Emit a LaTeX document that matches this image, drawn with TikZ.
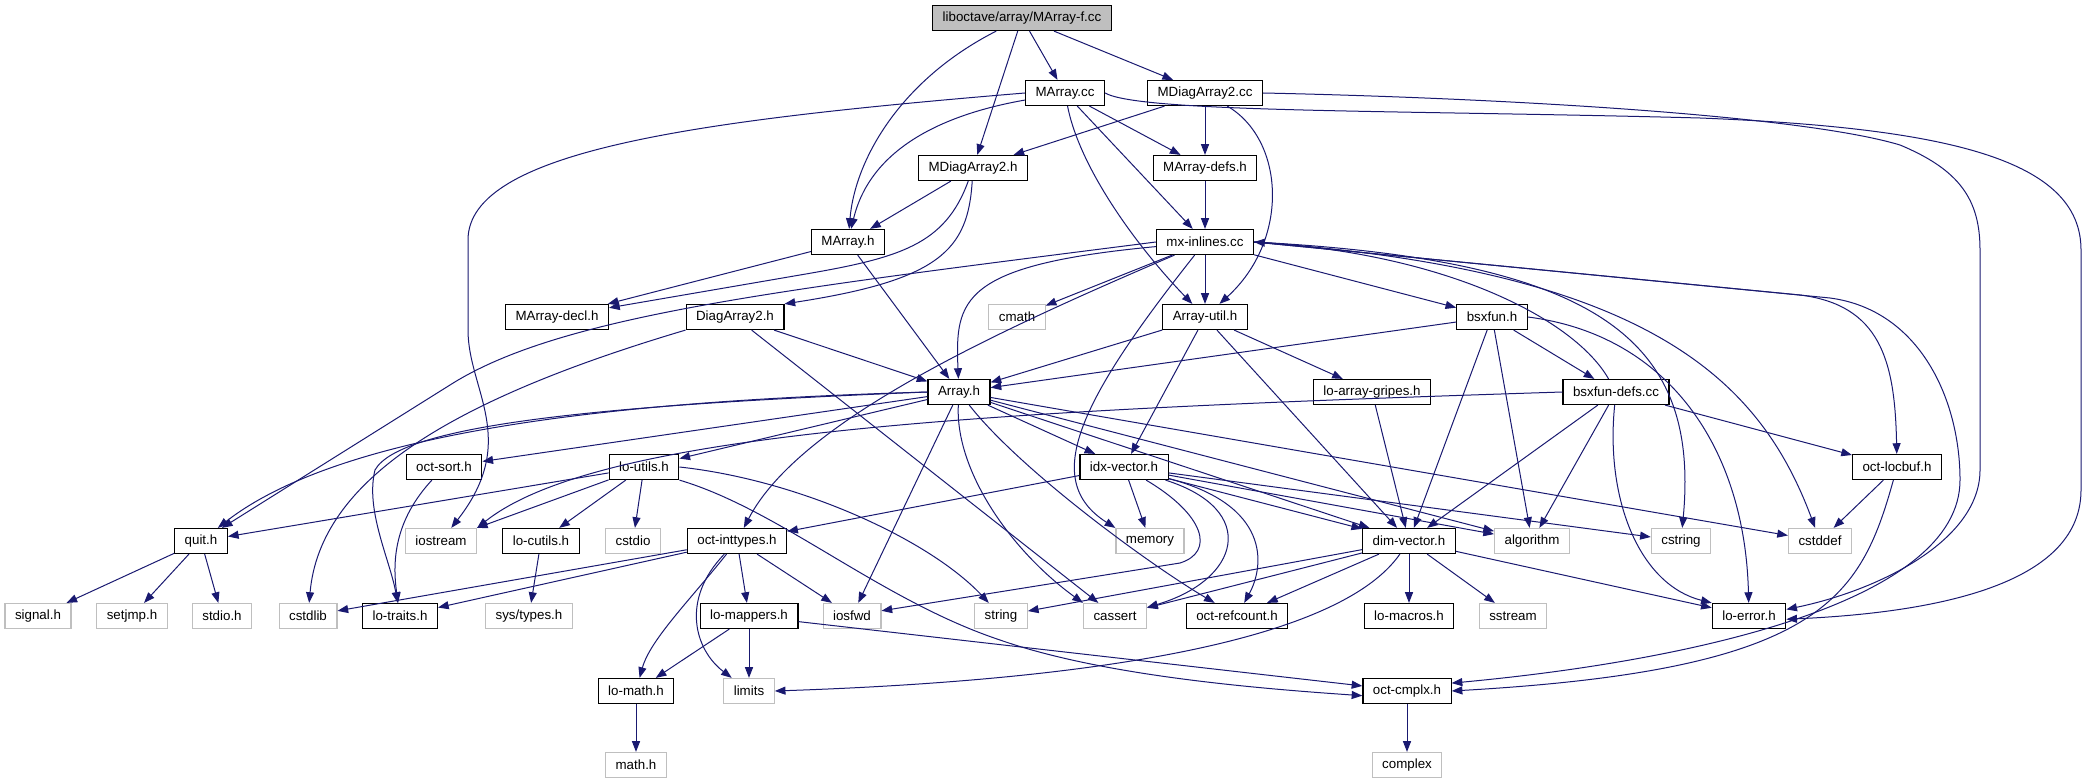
\documentclass[tikz,border=0pt]{standalone}
\usepackage{fontspec}
\setmainfont{Liberation Sans}
\usetikzlibrary{arrows.meta}
\definecolor{grey75}{RGB}{191,191,191}
\definecolor{midnight}{RGB}{25,25,112}

\begin{document}
\begin{tikzpicture}[x=0.75pt, y=-0.75pt,
  file/.style = {draw, line width=0.9pt, minimum height=18.75pt, inner xsep=7.5pt, inner ysep=0pt, font=\fontsize{10}{12}\selectfont},
  sys/.style = {file, draw=grey75},
  start/.style = {file, fill=grey75},
  dep/.style = {draw=midnight, line width=0.75pt, -{Triangle[length=8pt, width=6pt]}}]
\useasboundingbox (0,0) rectangle (2087,784);

\node[start] (root) at (1022,18) {liboctave/array/MArray-f.cc};
\node[file] (marraycc) at (1065,93) {MArray.cc};
\node[file] (mdiagcc) at (1205,93) {MDiagArray2.cc};
\node[file] (mdiagh) at (973,168) {MDiagArray2.h};
\node[file] (mdefs) at (1205,168) {MArray-defs.h};
\node[file] (marrayh) at (848,242) {MArray.h};
\node[file] (mxinl) at (1205,242) {mx-inlines.cc};
\node[file] (mdecl) at (557,317) {MArray-decl.h};
\node[file] (diagh) at (735,317) {DiagArray2.h};
\node[sys] (cmath) at (1017,317) {cmath};
\node[file] (autil) at (1205,317) {Array-util.h};
\node[file] (bsxfun) at (1492,317) {bsxfun.h};
\node[file] (arrayh) at (959,392) {Array.h};
\node[file] (gripes) at (1372,392) {lo-array-gripes.h};
\node[file] (bsxdefs) at (1616,392) {bsxfun-defs.cc};
\node[file] (octsort) at (444,467) {oct-sort.h};
\node[file] (loutils) at (644,467) {lo-utils.h};
\node[file] (idxvec) at (1124,467) {idx-vector.h};
\node[file] (locbuf) at (1897,467) {oct-locbuf.h};
\node[file] (quit) at (201,541) {quit.h};
\node[sys] (iostream) at (441,541) {iostream};
\node[file] (locutils) at (541,541) {lo-cutils.h};
\node[sys] (cstdio) at (633,541) {cstdio};
\node[file] (inttypes) at (737,541) {oct-inttypes.h};
\node[sys] (memory) at (1150,541) {memory};
\node[file] (dimvec) at (1409,541) {dim-vector.h};
\node[sys] (algorithm) at (1532,541) {algorithm};
\node[sys] (cstring) at (1681,541) {cstring};
\node[sys] (cstddef) at (1820,541) {cstddef};
\node[sys] (signal) at (38,616) {signal.h};
\node[sys] (setjmp) at (132,616) {setjmp.h};
\node[sys] (stdio) at (222,616) {stdio.h};
\node[sys] (cstdlib) at (308,616) {cstdlib};
\node[file] (lotraits) at (400,616) {lo-traits.h};
\node[sys] (systypes) at (529,616) {sys/types.h};
\node[file] (mappers) at (749,616) {lo-mappers.h};
\node[sys] (iosfwd) at (852,616) {iosfwd};
\node[sys] (string) at (1001,616) {string};
\node[sys] (cassert) at (1115,616) {cassert};
\node[file] (refcount) at (1237,616) {oct-refcount.h};
\node[file] (macros) at (1409,616) {lo-macros.h};
\node[sys] (sstream) at (1513,616) {sstream};
\node[file] (loerror) at (1749,616) {lo-error.h};
\node[file] (lomath) at (636,691) {lo-math.h};
\node[sys] (limits) at (749,691) {limits};
\node[file] (cmplx) at (1407,691) {oct-cmplx.h};
\node[sys] (mathh) at (636,765) {math.h};
\node[sys] (complex) at (1407,765) {complex};

\draw[dep] (root) .. controls (900,80) and (855,160) .. (marrayh);
\draw[dep] (root) -- (mdiagh);
\draw[dep] (root) -- (marraycc);
\draw[dep] (root) -- (mdiagcc);

\draw[dep] (marraycc) .. controls (940,115) and (870,150) .. (marrayh);
\draw[dep] (marraycc.west) .. controls (700,120) and (468,150) .. (468,240) -- (468,330) .. controls (468,390) and (520,440) .. (iostream);
\draw[dep] (marraycc) -- (mdefs);
\draw[dep] (marraycc) -- (mxinl);
\draw[dep] (marraycc) .. controls (1080,170) and (1140,250) .. (autil);
\draw[dep] (marraycc.east) .. controls (1140,113) and (1400,110) .. (1700,118) .. controls (1950,128) and (2081,160) .. (2081,250) -- (2081,490) .. controls (2081,580) and (1950,612) .. (loerror.-5);

\draw[dep] (mdiagcc) -- (mdiagh);
\draw[dep] (mdiagcc) -- (mdefs);
\draw[dep] (mdiagcc) .. controls (1285,140) and (1290,240) .. (autil);
\draw[dep] (mdiagcc.east) .. controls (1500,98) and (1800,115) .. (1900,145) .. controls (1960,170) and (1980,200) .. (1980,250) -- (1980,470) .. controls (1980,540) and (1880,590) .. (loerror.10);

\draw[dep] (mdiagh) -- (marrayh);
\draw[dep] (mdiagh) .. controls (945,245) and (900,258) .. (800,275) -- (mdecl.10);
\draw[dep] (mdiagh) .. controls (968,250) and (940,280) .. (diagh.north east);
\draw[dep] (mdefs) -- (mxinl);
\draw[dep] (marrayh) -- (mdecl);
\draw[dep] (marrayh) -- (arrayh);

\draw[dep] (mxinl.west) .. controls (780,290) and (560,315) .. (450,385) -- (quit);
\draw[dep] (mxinl) .. controls (960,265) and (955,300) .. (arrayh);
\draw[dep] (mxinl) -- (cmath);
\draw[dep] (mxinl) .. controls (1080,400) and (1040,480) .. (memory.north west);
\draw[dep] (mxinl) .. controls (1000,330) and (800,420) .. (inttypes);
\draw[dep] (mxinl) -- (autil);
\draw[dep] (mxinl) -- (bsxfun);
\draw[dep] (mxinl.east) .. controls (1600,260) and (1700,340) .. (cstring);
\draw[dep] (mxinl.east) .. controls (1650,270) and (1760,380) .. (cstddef);
\draw[dep] (mxinl.east) -- (1800,295) .. controls (1880,305) and (1895,360) .. (locbuf);
\draw[dep] (mxinl.east) -- (1830,298) .. controls (1920,310) and (1960,400) .. (1960,480) .. controls (1960,600) and (1700,660) .. (cmplx.10);

\draw[dep] (diagh) -- (arrayh);
\draw[dep] (diagh) -- (cassert);
\draw[dep] (diagh.south west) .. controls (450,400) and (320,480) .. (cstdlib);

\draw[dep] (autil) -- (arrayh);
\draw[dep] (autil) -- (gripes);
\draw[dep] (autil) -- (idxvec);
\draw[dep] (autil) -- (dimvec);

\draw[dep] (bsxfun) -- (arrayh);
\draw[dep] (bsxfun) -- (bsxdefs);
\draw[dep] (bsxfun) -- (dimvec);
\draw[dep] (bsxfun) -- (algorithm);
\draw[dep] (bsxfun.east) .. controls (1670,335) and (1745,450) .. (loerror);

\draw[dep] (bsxdefs) .. controls (1575,320) and (1450,255) .. (mxinl.east);
\draw[dep] (bsxdefs.west) .. controls (1000,410) and (600,430) .. (iostream.north east);
\draw[dep] (bsxdefs) -- (locbuf);
\draw[dep] (bsxdefs) -- (dimvec);
\draw[dep] (bsxdefs) -- (algorithm);
\draw[dep] (bsxdefs) .. controls (1605,500) and (1640,585) .. (loerror.north west);

\draw[dep] (gripes) -- (dimvec);

\draw[dep] (arrayh.west) .. controls (650,400) and (350,425) .. (quit);
\draw[dep] (arrayh.west) .. controls (600,405) and (400,425) .. (375,470) .. controls (365,510) and (390,560) .. (lotraits);
\draw[dep] (arrayh) -- (octsort);
\draw[dep] (arrayh) -- (loutils);
\draw[dep] (arrayh) -- (idxvec);
\draw[dep] (arrayh) -- (iosfwd);
\draw[dep] (arrayh) .. controls (955,470) and (1010,550) .. (cassert.north west);
\draw[dep] (arrayh) .. controls (1020,470) and (1150,565) .. (refcount);
\draw[dep] (arrayh) -- (dimvec);
\draw[dep] (arrayh) -- (algorithm);
\draw[dep] (arrayh) -- (cstddef);

\draw[dep] (octsort) .. controls (395,520) and (392,560) .. (lotraits);

\draw[dep] (loutils) -- (quit);
\draw[dep] (loutils) -- (iostream);
\draw[dep] (loutils) -- (locutils);
\draw[dep] (loutils) -- (cstdio);
\draw[dep] (loutils.east) .. controls (800,480) and (930,540) .. (string);
\draw[dep] (loutils.south east) .. controls (780,510) and (880,600) .. (1000,640) .. controls (1100,675) and (1250,688) .. (cmplx.186);

\draw[dep] (idxvec) -- (inttypes);
\draw[dep] (idxvec) -- (memory);
\draw[dep] (idxvec) .. controls (1205,515) and (1215,552) .. (1180,563) -- (iosfwd.10);
\draw[dep] (idxvec) .. controls (1260,510) and (1240,580) .. (cassert.15);
\draw[dep] (idxvec) .. controls (1270,505) and (1265,565) .. (refcount);
\draw[dep] (idxvec) -- (dimvec);
\draw[dep] (idxvec) -- (algorithm);
\draw[dep] (idxvec) -- (cstring);

\draw[dep] (locbuf) -- (cstddef);
\draw[dep] (locbuf) .. controls (1860,600) and (1820,670) .. (cmplx.east);

\draw[dep] (quit) -- (signal);
\draw[dep] (quit) -- (setjmp);
\draw[dep] (quit) -- (stdio);
\draw[dep] (locutils) -- (systypes);

\draw[dep] (inttypes) -- (cstdlib);
\draw[dep] (inttypes) -- (lotraits);
\draw[dep] (inttypes) .. controls (690,600) and (650,640) .. (lomath);
\draw[dep] (inttypes) .. controls (680,600) and (695,650) .. (limits);
\draw[dep] (inttypes) -- (mappers);
\draw[dep] (inttypes) -- (iosfwd);

\draw[dep] (dimvec) -- (string);
\draw[dep] (dimvec) -- (cassert);
\draw[dep] (dimvec) -- (refcount);
\draw[dep] (dimvec) -- (macros);
\draw[dep] (dimvec) -- (sstream);
\draw[dep] (dimvec) -- (loerror);
\draw[dep] (dimvec) .. controls (1340,640) and (1100,680) .. (limits.east);

\draw[dep] (mappers) -- (lomath);
\draw[dep] (mappers) -- (limits);
\draw[dep] (mappers) -- (cmplx);
\draw[dep] (lomath) -- (mathh);
\draw[dep] (cmplx) -- (complex);
\end{tikzpicture}
\end{document}
